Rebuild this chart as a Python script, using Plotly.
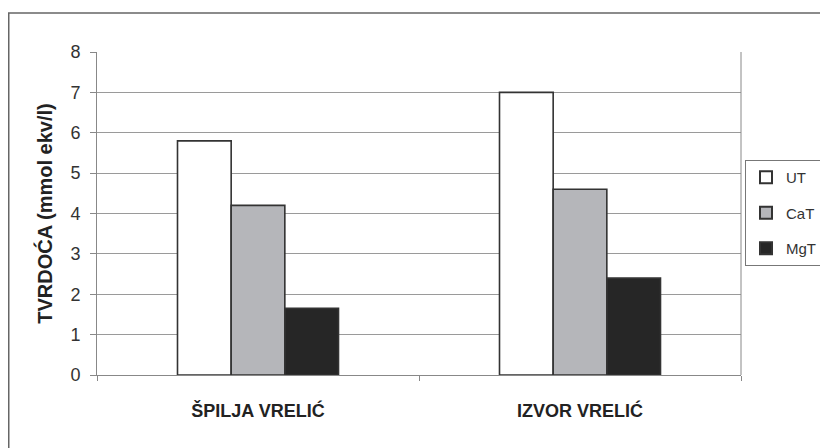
import plotly.graph_objects as go

categories = ["ŠPILJA VRELIĆ", "IZVOR VRELIĆ"]
series_names = ["UT", "CaT", "MgT"]
ut_values = [5.8, 7.0]
cat_values = [4.2, 4.6]
mgt_values = [1.65, 2.4]
y_ticks = [0, 1, 2, 3, 4, 5, 6, 7, 8]

colors = ["#ffffff", "#b5b6ba", "#262626"]
values = [ut_values, cat_values, mgt_values]

# page body has an 8px margin, so the figure is sized/offset accordingly
W, H = 820, 440
L, R, T, B = 89, 733, 44, 367

fig = go.Figure()
for name, vals, col in zip(series_names, values, colors):
    fig.add_trace(go.Bar(
        x=categories, y=vals, name=name, legendgroup=name,
        marker=dict(color=col, line=dict(color="#333333", width=1.6)),
    ))

font_family = "Liberation Sans, Arial, sans-serif"

def px_x(px):
    return (px - L) / (R - L)

def px_y(py):
    return (B - py) / (B - T)

fig.update_layout(
    width=W, height=H,
    margin=dict(l=L, r=W - R, t=T, b=H - B, pad=0, autoexpand=False),
    paper_bgcolor="white", plot_bgcolor="white",
    barmode="group", bargap=0.5, bargroupgap=0,
    font=dict(family=font_family, color="#333333"),
    showlegend=True,
    legend=dict(
        x=px_x(737), y=px_y(152),
        xanchor="left", yanchor="top",
        bordercolor="#777777", borderwidth=1,
        font=dict(size=15, color="#333333"),
        itemsizing="constant", tracegroupgap=13,
        traceorder="grouped",
    ),
    xaxis=dict(
        showgrid=False, showline=True, linecolor="#888888", linewidth=1,
        ticks="outside", tickson="boundaries", ticklen=5, tickcolor="#888888",
        tickfont=dict(size=18, family=font_family, color="#222222", weight="bold"),
        ticklabelstandoff=19,
        mirror=False,
    ),
    yaxis=dict(
        range=[0, 8], tickvals=y_ticks,
        showgrid=True, gridcolor="#9a9a9a", gridwidth=1,
        showline=True, linecolor="#888888", linewidth=1,
        ticks="outside", ticklen=6, tickcolor="#888888",
        tickfont=dict(size=18, color="#333333"),
        ticklabelstandoff=6,
        zeroline=False,
        title=dict(text="<b>TVRDOĆA (mmol ekv/l)</b>",
                   font=dict(size=20, color="#222222"), standoff=12),
    ),
    shapes=[
        dict(type="line", xref="paper", yref="paper", x0=1, x1=1, y0=0, y1=1,
             line=dict(color="#888888", width=1)),
        dict(type="rect", xref="paper", yref="paper",
             x0=px_x(0.75), x1=px_x(840),
             y0=px_y(460), y1=px_y(5),
             line=dict(color="#666666", width=1.5), fillcolor="rgba(0,0,0,0)"),
    ],
)

fig.write_html("out.html")
